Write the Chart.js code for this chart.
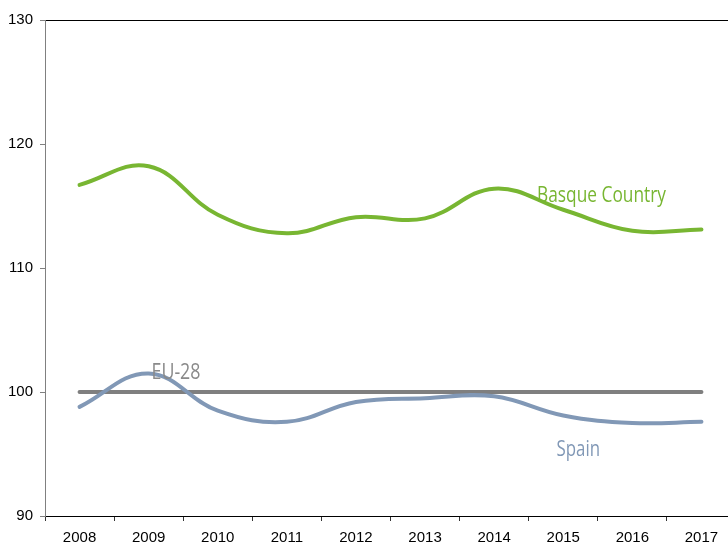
<!DOCTYPE html>
<html>
<head>
<meta charset="utf-8">
<script src="https://cdn.jsdelivr.net/npm/chart.js@4"></script>
<style>
  html, body { margin: 0; padding: 0; background: #fff; overflow: hidden; }
  #wrap { width: 728px; height: 545px; overflow: hidden; position: relative; }
  canvas { display: block; }
</style>
</head>
<body>
<div id="wrap"><canvas id="c" width="740" height="545"></canvas></div>
<script>
const years = ['2008','2009','2010','2011','2012','2013','2014','2015','2016','2017'];
const basqueCountry = [116.7, 118.2, 114.3, 112.8, 114.1, 114.0, 116.4, 114.7, 113.0, 113.1];
const spain = [98.8, 101.5, 98.5, 97.6, 99.2, 99.5, 99.65, 98.1, 97.5, 97.6];
const eu28 = [100, 100, 100, 100, 100, 100, 100, 100, 100, 100];
const yTicks = [90, 100, 110, 120, 130];
const seriesNames = ['Basque Country', 'Spain', 'EU-28'];

const GREEN = '#78B632';
const BLUEGRAY = '#8198B6';
const GRAY = '#7F7F7F';

const seriesLabels = [
  { text: seriesNames[0], x: 537, y: 201.5, w: 129, color: GREEN },
  { text: seriesNames[2], x: 151.5, y: 379, w: 49, color: '#8A8A8A' },
  { text: seriesNames[1], x: 556.5, y: 456, w: 43.5, color: BLUEGRAY }
];

const labelPlugin = {
  id: 'seriesLabels',
  afterDatasetsDraw(chart) {
    const ctx = chart.ctx;
    seriesLabels.forEach(it => {
      ctx.save();
      ctx.font = '21px "Open Sans"';
      const w = ctx.measureText(it.text).width;
      ctx.translate(it.x, it.y);
      ctx.scale(it.w / w, 1);
      ctx.fillStyle = it.color;
      ctx.textBaseline = 'alphabetic';
      ctx.textAlign = 'left';
      ctx.fillText(it.text, 0, 0);
      ctx.restore();
    });
  }
};

new Chart(document.getElementById('c'), {
  type: 'line',
  data: {
    labels: years,
    datasets: [
      { label: seriesNames[1], data: spain, borderColor: BLUEGRAY, borderWidth: 4, pointRadius: 0, tension: 0.4, borderCapStyle: 'round', fill: false },
      { label: seriesNames[2], data: eu28, borderColor: GRAY, borderWidth: 4, pointRadius: 0, tension: 0, borderCapStyle: 'round', fill: false },
      { label: seriesNames[0], data: basqueCountry, borderColor: GREEN, borderWidth: 4, pointRadius: 0, tension: 0.4, borderCapStyle: 'round', fill: false }
    ]
  },
  options: {
    responsive: false,
    animation: false,
    layout: { padding: { top: 20, right: 4, bottom: 0, left: 0 } },
    plugins: { legend: { display: false }, tooltip: { enabled: false } },
    scales: {
      x: {
        offset: true,
        grid: { offset: true, drawOnChartArea: false, tickLength: 5, color: '#333', lineWidth: 1 },
        border: { color: '#000', width: 1 },
        ticks: { color: '#000', font: { family: '"Liberation Sans", Arial', size: 15 }, padding: 8, maxRotation: 0, autoSkip: false },
        afterFit: s => { s.height = 29; }
      },
      y: {
        min: 90, max: 130,
        afterBuildTicks: s => { s.ticks = yTicks.map(v => ({ value: v })); },
        grid: {
          color: c => (c.tick && c.tick.value === 130) ? '#000' : 'rgba(0,0,0,0)',
          tickColor: '#808080',
          tickLength: 5,
          lineWidth: 1
        },
        border: { color: '#808080', width: 1 },
        ticks: { color: '#000', font: { family: '"Liberation Sans", Arial', size: 15 }, padding: 7 },
        afterFit: s => { s.width = 45; }
      }
    }
  },
  plugins: [labelPlugin]
});
</script>
</body>
</html>
